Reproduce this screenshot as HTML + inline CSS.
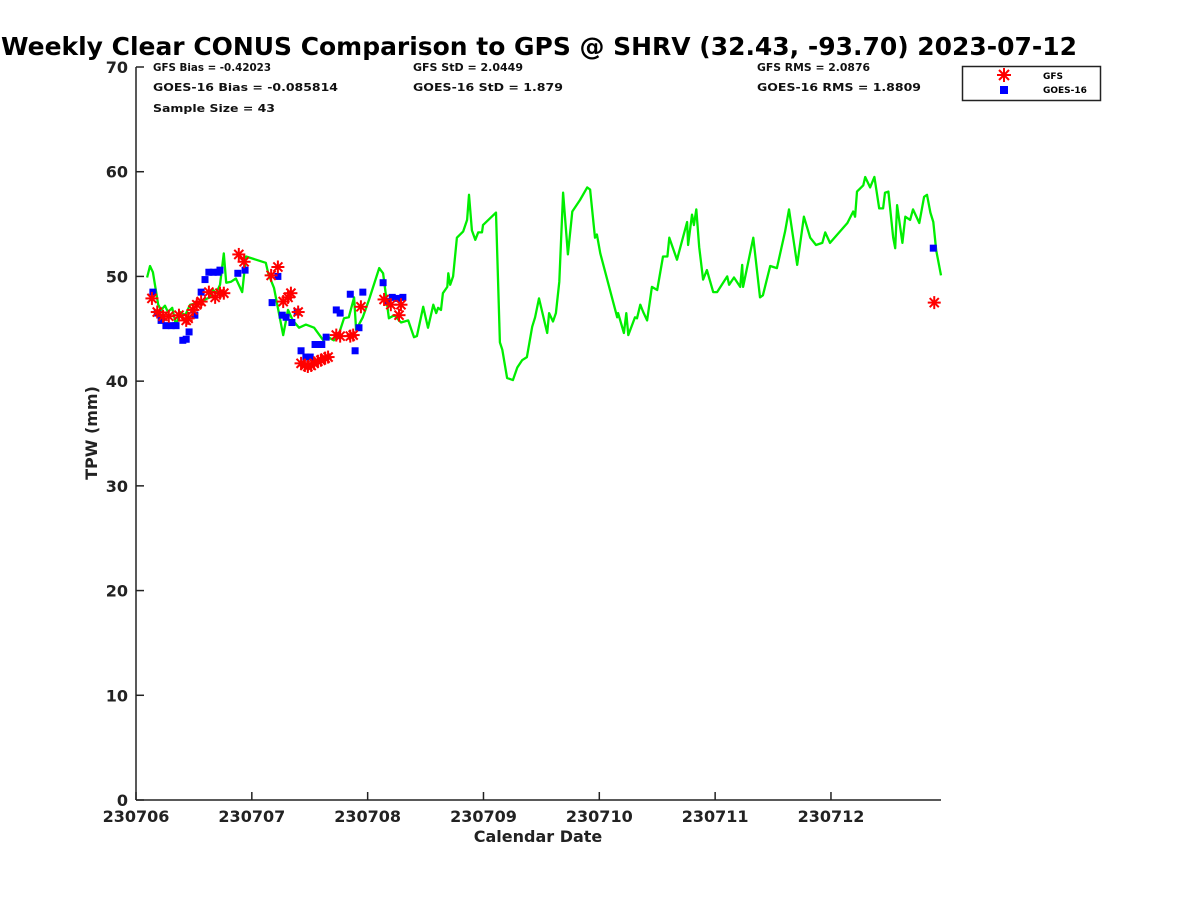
<!DOCTYPE html>
<html><head><meta charset="utf-8"><style>
html,body{margin:0;padding:0;background:#fff;}
svg{display:block;font-family:"DejaVu Sans","Liberation Sans",sans-serif;}
</style></head><body>
<svg id="chart" width="1200" height="900" viewBox="0 0 1200 900">
<text x="1" y="55" textLength="1076" lengthAdjust="spacingAndGlyphs" font-size="25" font-weight="bold" fill="#000">Weekly Clear CONUS Comparison to GPS @ SHRV (32.43, -93.70) 2023-07-12</text>
<g font-size="11" font-weight="bold" fill="#111">
<text x="153" y="71" textLength="118" lengthAdjust="spacingAndGlyphs">GFS Bias = -0.42023</text>
<text x="153" y="91" textLength="185" lengthAdjust="spacingAndGlyphs">GOES-16 Bias = -0.085814</text>
<text x="153" y="112" textLength="122" lengthAdjust="spacingAndGlyphs">Sample Size = 43</text>
<text x="413" y="71" textLength="110" lengthAdjust="spacingAndGlyphs">GFS StD = 2.0449</text>
<text x="413" y="91" textLength="150" lengthAdjust="spacingAndGlyphs">GOES-16 StD = 1.879</text>
<text x="757" y="71" textLength="113" lengthAdjust="spacingAndGlyphs">GFS RMS = 2.0876</text>
<text x="757" y="91" textLength="164" lengthAdjust="spacingAndGlyphs">GOES-16 RMS = 1.8809</text>
</g>
<g id="plot"></g>
<g>
<rect x="962.5" y="66.5" width="138" height="34" fill="#fff" stroke="#222" stroke-width="1.5"/>
<g stroke="#f00" stroke-width="2">
<line x1="1004" y1="68" x2="1004" y2="82"/><line x1="997" y1="75" x2="1011" y2="75"/><line x1="999" y1="70" x2="1009" y2="80"/><line x1="1009" y1="70" x2="999" y2="80"/></g>
<text x="1043" y="79" font-size="9" font-weight="bold">GFS</text>
<rect x="1000" y="86" width="8" height="8" fill="#00f"/>
<text x="1043" y="93" font-size="9" font-weight="bold">GOES-16</text>
</g>
<text x="538" y="842" text-anchor="middle" font-size="16" font-weight="bold" fill="#222">Calendar Date</text>
<text transform="translate(97,433) rotate(-90)" text-anchor="middle" font-size="16" font-weight="bold" fill="#222">TPW (mm)</text>
</svg>
<script>
const gpsHours=[2.3,2.9,3.5,4.6,5.2,6.0,6.6,7.5,8.3,9.1,10.2,11.2,13.3,14.3,15.3,16.0,16.6,17.4,18.2,18.7,19.7,20.7,22.0,22.8,26.9,27.4,28.6,30.5,31.5,32.5,33.8,35.2,36.9,38.8,39.8,41.0,42.1,43.1,44.1,45.2,45.6,47.0,48.3,50.4,51.2,52.4,53.5,54.9,56.4,57.6,58.2,59.5,60.5,61.6,62.2,62.6,63.2,63.6,64.5,64.7,65.1,65.7,66.5,67.8,68.6,69.0,69.6,70.3,70.9,71.7,71.9,74.6,75.4,75.9,76.9,78.1,79.0,80.0,81.0,82.1,82.7,83.5,85.2,85.6,86.4,87.0,87.7,88.5,89.5,90.4,92.0,93.5,94.1,95.1,95.5,96.2,99.7,99.9,101.1,101.6,102.0,103.4,103.8,104.5,105.1,105.9,106.9,108.0,109.2,110.1,110.5,112.1,114.2,114.4,115.2,115.6,116.1,116.7,117.5,118.3,119.6,120.4,122.5,122.9,123.9,125.2,125.6,125.8,127.9,129.3,129.9,131.4,132.8,134.5,135.3,137.0,138.4,139.7,140.9,142.2,142.8,143.8,147.4,148.6,149.0,149.4,150.7,151.1,152.1,153.0,154.0,154.8,155.2,155.9,156.9,157.3,157.7,158.8,159.4,160.4,161.0,162.3,163.3,163.9,164.6,165.2,165.8,166.8];
const gpsValues=[49.9,51.0,50.4,47.3,46.8,47.2,46.6,47.0,45.3,46.6,46.3,47.3,47.5,47.8,48.0,48.7,48.4,49.2,52.2,49.4,49.5,49.8,48.5,51.9,51.3,50.3,48.9,44.4,46.8,45.8,45.1,45.4,45.1,43.9,44.2,43.9,44.6,46.0,46.1,48.0,44.9,46.1,47.8,50.8,50.3,46.0,46.3,45.6,45.8,44.2,44.3,47.1,45.1,47.3,46.5,47.0,46.8,48.4,49.0,50.3,49.2,50.0,53.7,54.3,55.4,57.8,54.4,53.5,54.2,54.2,54.9,56.1,43.7,43.0,40.3,40.1,41.3,42.0,42.3,45.2,46.1,47.9,44.6,46.5,45.7,46.5,49.5,58.0,52.1,56.2,57.3,58.5,58.3,53.7,54.0,52.2,46.1,46.5,44.6,46.5,44.4,46.1,46.0,47.3,46.6,45.8,49.0,48.7,51.9,51.9,53.7,51.6,55.2,53.0,55.9,54.9,56.4,52.8,49.7,50.6,48.5,48.5,50.0,49.2,49.9,49.0,51.1,49.0,53.7,48.0,48.2,51.0,50.8,54.3,56.4,51.1,55.7,53.7,53.0,53.2,54.2,53.2,55.1,56.2,55.7,58.1,58.7,59.5,58.5,59.5,56.5,56.5,58.0,58.1,53.7,52.7,56.8,53.2,55.7,55.4,56.4,55.1,57.6,57.8,56.1,55.2,52.5,50.1];
const goesHours=[3.5,4.4,5.2,6.2,7.3,8.3,9.7,10.4,11.0,12.2,13.5,14.3,15.1,16.0,17.0,17.4,21.1,22.6,28.2,29.4,30.3,31.1,32.3,33.4,34.2,35.2,36.1,37.1,38.5,39.4,41.5,42.3,44.4,45.4,46.2,47.0,51.2,52.2,53.1,54.3,55.3,165.2];
const goesValues=[48.5,46.5,45.8,45.3,45.3,45.3,43.9,44.0,44.7,46.3,48.5,49.7,50.4,50.4,50.4,50.6,50.3,50.6,47.5,50.0,46.3,46.1,45.6,46.6,42.9,42.3,42.3,43.5,43.5,44.2,46.8,46.5,48.3,42.9,45.1,48.5,49.4,47.6,48.0,47.9,48.0,52.7];
const gfsHours=[3.3,4.4,5.6,6.8,8.9,10.4,10.8,11.8,12.6,13.5,15.1,16.4,17.4,18.2,21.3,22.4,28.0,29.4,30.5,31.5,32.1,33.6,34.2,35.0,35.6,36.3,36.9,37.7,38.3,39.2,39.8,41.5,42.3,44.4,45.0,46.6,51.4,52.8,54.5,54.9,165.4];
const gfsValues=[47.9,46.6,46.2,46.2,46.3,45.8,46.0,46.8,47.3,47.6,48.5,48.0,48.4,48.4,52.1,51.4,50.1,50.9,47.6,48.0,48.4,46.6,41.7,41.5,41.4,41.5,41.7,41.9,42.0,42.2,42.3,44.4,44.3,44.3,44.4,47.1,47.8,47.3,46.3,47.3,47.5];
const xTickLabels=["230706","230707","230708","230709","230710","230711","230712"];
const yTicks=[0,10,20,30,40,50,60,70];

const NS="http://www.w3.org/2000/svg";
const L=136,R=941,T=67,B=800,XMAX=166.8,YMAX=70;
const xs=h=>L+(h/XMAX)*(R-L);
const ys=v=>B-(v/YMAX)*(B-T);
const plot=document.getElementById('plot');
function mk(tag,attrs,parent){const e=document.createElementNS(NS,tag);for(const k in attrs)e.setAttribute(k,attrs[k]);(parent||plot).appendChild(e);return e;}

const ax=mk('g',{stroke:'#222','stroke-width':'1.5'});


mk('line',{x1:L,y1:T,x2:L,y2:B},ax);
mk('line',{x1:L,y1:B,x2:R,y2:B},ax);
yTicks.forEach(v=>{
  const y=ys(v);
  mk('line',{x1:L,y1:y,x2:L+8,y2:y},ax);
  const t=mk('text',{x:L-8,y:y+6,'text-anchor':'end','font-size':'16','font-weight':'bold',fill:'#222',stroke:'none'});
  
  
  t.textContent=v;
});
xTickLabels.forEach((lab,i)=>{
  const x=xs(i*24);
  mk('line',{x1:x,y1:B,x2:x,y2:B-8},ax);
  const t=mk('text',{x:x,y:B+22,'text-anchor':'middle','font-size':'16','font-weight':'bold',fill:'#222',stroke:'none'});
  
  
  t.textContent=lab;
});

const pts=gpsHours.map((h,i)=>xs(h).toFixed(1)+','+ys(gpsValues[i]).toFixed(1)).join(' ');
const line=mk('polyline',{points:pts,fill:'none',stroke:'#00ee00','stroke-width':'2.3','stroke-linejoin':'round'});



goesHours.forEach((h,i)=>{
  const r=mk('rect',{x:xs(h)-3.5,y:ys(goesValues[i])-3.5,width:7,height:7,fill:'#00f'});
  
  
});
gfsHours.forEach((h,i)=>{
  const x=xs(h),y=ys(gfsValues[i]),s=6.5;
  const g=mk('g',{stroke:'#f00','stroke-width':'2'});
  
  
  mk('line',{x1:x,y1:y-s,x2:x,y2:y+s},g);
  mk('line',{x1:x-s,y1:y,x2:x+s,y2:y},g);
  mk('line',{x1:x-s*0.7,y1:y-s*0.7,x2:x+s*0.7,y2:y+s*0.7},g);
  mk('line',{x1:x+s*0.7,y1:y-s*0.7,x2:x-s*0.7,y2:y+s*0.7},g);
});
</script>
</body></html>
